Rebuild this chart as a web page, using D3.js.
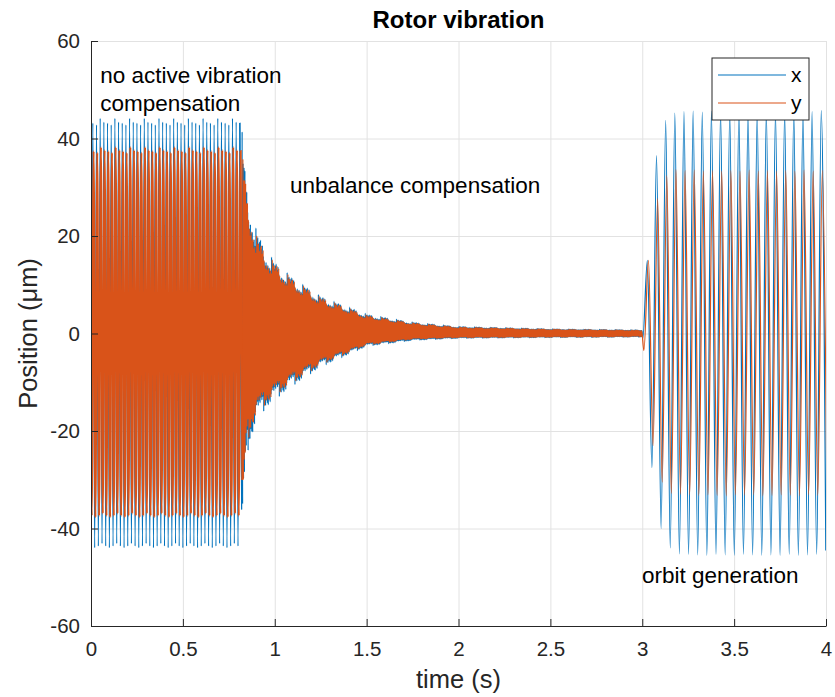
<!DOCTYPE html>
<html lang="en">
<head>
<meta charset="utf-8">
<title>Rotor vibration</title>
<script src="https://d3js.org/d3.v7.min.js"></script>
<style>
  body { margin: 0; background: #fff; }
  svg { display: block; font-family: "Liberation Sans", Arial, sans-serif; }
  .axis text { fill: #262626; font-size: 20.5px; }
  .axis path, .axis line { stroke: #262626; }
  .grid line { stroke: #e2e2e2; }
  .grid path { display: none; }
</style>
</head>
<body>
<div id="chart"></div>
<script>
// ---- data (time in s, position in um) ----
// envelope of the vibration before the orbit starts
var envTime = [0, 0.816, 0.83, 0.85, 0.9, 0.95, 1.0, 1.1, 1.25, 1.5, 1.75, 2.0, 2.5, 3.0];
var xUpper  = [43.6, 43.6, 33, 26, 19, 15.5, 13.2, 10.2, 6.9, 3.6, 2.1, 1.3, 0.85, 0.65];
var xLower  = [-43.6, -43.6, -33, -22, -16, -13.8, -12.2, -9.6, -6.2, -2.4, -1.3, -0.9, -0.75, -0.65];
var yUpper  = [37.8, 37.8, 32, 25, 18, 15, 13, 10, 6.7, 3.4, 2.0, 1.2, 0.8, 0.6];
var yLower  = [-37.4, -37.4, -31, -20, -15, -13, -11.5, -9, -5.8, -2.2, -1.1, -0.8, -0.7, -0.6];

// cycle-to-cycle scatter of the peaks
var steadyScatter = [1, 0.99, 1.008, 0.982, 1, 1.012, 0.988, 0.995];
var decayScatter  = [1, 0.9, 1.06, 0.94, 1.1, 0.88, 1.02, 0.93, 1.08, 0.9, 0.97, 1.12, 0.92, 1.04, 0.89, 1.07, 0.95];

// rotor speed 50 Hz, then faster residual content while compensating
var compStart = 0.816;
var slowHalf = 0.01;
var fastHalf = 0.0025;

// orbit generation: extremes of each half cycle from t = 3.0 on
var orbitHalf = 0.0249;
var xOrbitStart = 3.003;
var yOrbitStart = 3.009;
var xOrbit = [-1, 15, -27.5, 36.5, -40, 43.7, -44, 45.2, -45.2, 45.5,
              -45.3, 45.6, -45.4, 45.4, -45.5, 45.6, -45.3, 45.5, -45.4, 45.4,
              -45.5, 45.6, -45.3, 45.5, -45.4, 45.3, -45.5, 45.6, -45.4, 45.5,
              -45.5, 45.4, -45.3, 45.6, -45.5, 45.4, -45.4, 45.5, -45.3, 45.7, -44.5];
var yOrbit = [-3.5, 15, -23, 27.7, -30.5, 32.4, -32.8, 33.6, -33, 33.4,
              -33.1, 33.5, -33.2, 33.3, -33.1, 33.4, -33.2, 33.3, -33.3, 33.4,
              -33.1, 33.3, -33.2, 33.5, -33.1, 33.3, -33.3, 33.4, -33.2, 33.3,
              -33.1, 33.4, -33.2, 33.3, -33.3, 33.5, -33.1, 33.3, -33.2, 33.4, -33];

var xTicks = [0, 0.5, 1, 1.5, 2, 2.5, 3, 3.5, 4];
var yTicks = [-60, -40, -20, 0, 20, 40, 60];
var seriesNames = ["x", "y"];
var seriesColors = ["#0072BD", "#D95319"];
// line width while uncompensated, then afterwards
var steadyWidth = [1.2, 2.1];
var lineWidth = 1.2;

//Width and height
var w = 835, h = 697;
var plotL = 91, plotR = 826, plotT = 41, plotB = 626;

var svg = d3.select("#chart").append("svg")
            .attr("width", w)
            .attr("height", h);

var x = d3.scaleLinear().domain([0, 4]).range([plotL, plotR]);
var y = d3.scaleLinear().domain([-60, 60]).range([plotB, plotT]);

// grid
svg.append("g").attr("class", "grid")
   .attr("transform", "translate(0," + plotB + ")")
   .call(d3.axisBottom(x).tickValues(xTicks).tickSize(-(plotB - plotT)).tickFormat(""));
svg.append("g").attr("class", "grid")
   .attr("transform", "translate(" + plotL + ",0)")
   .call(d3.axisLeft(y).tickValues(yTicks).tickSize(-(plotR - plotL)).tickFormat(""));

// build a trace: alternate between upper and lower envelope each half cycle
function buildTrace(upper, lower, lag, firstVal, orbitStart, orbit) {
  var up = d3.scaleLinear().domain(envTime).range(upper).clamp(true);
  var lo = d3.scaleLinear().domain(envTime).range(lower).clamp(true);
  var pts = [[0, firstVal]];
  var t = lag, k = 0, sign = -1;
  while (t < 2.998) {
    var fast = t >= compStart;
    var s = fast ? decayScatter[k % decayScatter.length] : steadyScatter[k % steadyScatter.length];
    pts.push([t, (sign > 0 ? up(t) : lo(t)) * s]);
    sign = -sign;
    k++;
    t += fast ? fastHalf : slowHalf;
  }
  orbit.forEach(function(v, i) {
    pts.push([orbitStart + i * orbitHalf, v]);
  });
  return pts;
}

var traces = [
  buildTrace(xUpper, xLower, 0.0, -20, xOrbitStart, xOrbit),
  buildTrace(yUpper, yLower, 0.004, -26, yOrbitStart, yOrbit)
];

// split each trace into the uncompensated part and the rest
var pieces = [];
traces.forEach(function(pts, i) {
  var cut = d3.bisector(function(d) { return d[0]; }).left(pts, compStart);
  pieces.push({ s: i, order: 0, pts: pts.slice(cut - 1), width: lineWidth });
  pieces.push({ s: i, order: 1, pts: pts.slice(0, cut + 1), width: steadyWidth[i] });
});

svg.append("clipPath").attr("id", "plotClip")
   .append("rect").attr("x", plotL).attr("y", plotT)
   .attr("width", plotR - plotL).attr("height", plotB - plotT);

var line = d3.line()
  .curve(d3.curveMonotoneX)
  .x(function(d) { return x(d[0]); })
  .y(function(d) { return y(d[1]); });

svg.append("g").attr("clip-path", "url(#plotClip)")
   .selectAll("path.line")
   .data(pieces)
   .enter()
   .append("path")
   .attr("class", "line")
   .attr("d", function(d) { return line(d.pts); })
   .style("fill", "none")
   .style("stroke", function(d) { return seriesColors[d.s]; })
   .style("stroke-width", function(d) { return d.width; });

// axes, ticks pointing inwards
var xAxis = d3.axisBottom(x).tickValues(xTicks).tickSizeInner(-7).tickSizeOuter(0).tickPadding(15)
              .tickFormat(function(d) { return String(d); });
var yAxis = d3.axisLeft(y).tickValues(yTicks).tickSizeInner(-7).tickSizeOuter(0).tickPadding(11)
              .tickFormat(function(d) { return String(d); });

svg.append("g").attr("class", "axis")
   .attr("transform", "translate(0," + plotB + ")")
   .call(xAxis);
svg.append("g").attr("class", "axis")
   .attr("transform", "translate(" + plotL + ",0)")
   .call(yAxis);

// titles
svg.append("text")
   .attr("x", (plotL + plotR) / 2).attr("y", 28)
   .attr("text-anchor", "middle")
   .attr("font-size", "24px").attr("font-weight", "bold").attr("fill", "#000")
   .text("Rotor vibration");

svg.append("text")
   .attr("x", (plotL + plotR) / 2).attr("y", 688)
   .attr("text-anchor", "middle")
   .attr("font-size", "25.5px").attr("fill", "#262626")
   .text("time (s)");

svg.append("text")
   .attr("transform", "translate(37," + (plotT + plotB) / 2 + ") rotate(-90)")
   .attr("text-anchor", "middle")
   .attr("font-size", "25.5px").attr("fill", "#262626")
   .text("Position (\u03bcm)");

// annotations
var notes = [
  { t: 0.05, v: 51.4, text: "no active vibration" },
  { t: 0.05, v: 45.6, text: "compensation" },
  { t: 1.083, v: 28.8, text: "unbalance compensation" },
  { t: 2.999, v: -51.2, text: "orbit generation" }
];
svg.selectAll("text.note")
   .data(notes)
   .enter()
   .append("text")
   .attr("class", "note")
   .attr("x", function(d) { return x(d.t); })
   .attr("y", function(d) { return y(d.v); })
   .attr("font-size", "22.5px")
   .attr("fill", "#000")
   .text(function(d) { return d.text; });

// legend
var legend = svg.append("g").attr("transform", "translate(712,58)");
legend.append("rect")
      .attr("width", 97).attr("height", 62)
      .attr("fill", "#fff").attr("stroke", "#262626").attr("stroke-width", 1);
var item = legend.selectAll("g.item")
      .data(seriesNames)
      .enter()
      .append("g")
      .attr("class", "item")
      .attr("transform", function(d, i) { return "translate(0," + (17 + i * 28) + ")"; });
item.append("line")
    .attr("x1", 6).attr("x2", 74)
    .attr("stroke", function(d, i) { return seriesColors[i]; })
    .attr("stroke-width", 1.2);
item.append("text")
    .attr("x", 79).attr("dy", "0.32em")
    .attr("font-size", "21px").attr("fill", "#000")
    .text(function(d) { return d; });
</script>
</body>
</html>
